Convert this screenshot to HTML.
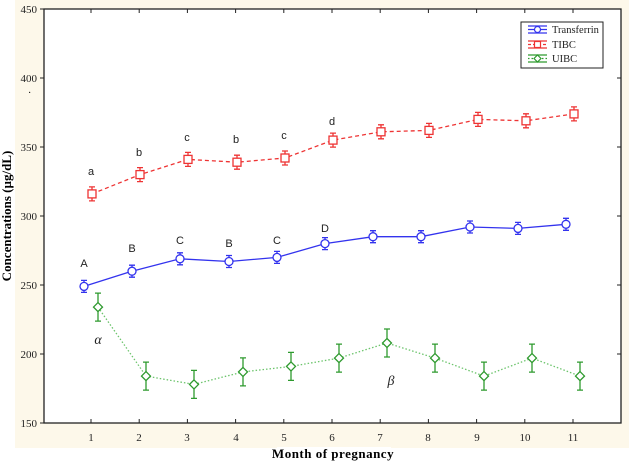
<!DOCTYPE html>
<html><head><style>
html,body{margin:0;padding:0;background:#fff}
svg{display:block}
text{font-family:"Liberation Serif",serif}
.s{font-family:"Liberation Sans",sans-serif;font-size:11px}
</style></head><body>
<svg width="629" height="463" viewBox="0 0 629 463" xmlns="http://www.w3.org/2000/svg">
<rect x="15" y="0" width="614" height="448" fill="#fdf8ea"/>
<rect x="44" y="9" width="577" height="414" fill="#fff" stroke="#222" stroke-width="1.3"/>
<!-- y ticks -->
<g stroke="#222" stroke-width="1">
<line x1="40" y1="9" x2="44" y2="9"/><line x1="40" y1="78" x2="44" y2="78"/><line x1="40" y1="147" x2="44" y2="147"/><line x1="40" y1="216" x2="44" y2="216"/><line x1="40" y1="285" x2="44" y2="285"/><line x1="40" y1="354" x2="44" y2="354"/><line x1="40" y1="423" x2="44" y2="423"/>
<line x1="617" y1="78" x2="621" y2="78"/><line x1="617" y1="147" x2="621" y2="147"/><line x1="617" y1="216" x2="621" y2="216"/><line x1="617" y1="285" x2="621" y2="285"/><line x1="617" y1="354" x2="621" y2="354"/>
</g>
<g stroke="#222" stroke-width="1">
<path d="M91 423v-4M139.2 423v-4M187.4 423v-4M235.6 423v-4M283.8 423v-4M332 423v-4M380.2 423v-4M428.4 423v-4M476.6 423v-4M524.8 423v-4M573 423v-4"/>
<path d="M91 9v4M139.2 9v4M187.4 9v4M235.6 9v4M283.8 9v4M332 9v4M380.2 9v4M428.4 9v4M476.6 9v4M524.8 9v4M573 9v4"/>
</g>
<g font-size="11" fill="#222" text-anchor="end">
<text x="37" y="13">450</text><text x="37" y="82">400</text><text x="37" y="151">350</text><text x="37" y="220">300</text><text x="37" y="289">250</text><text x="37" y="358">200</text><text x="37" y="427">150</text>
</g>
<text x="28" y="96" font-size="10">·</text>
<g font-size="11" fill="#222" text-anchor="middle">
<text x="91" y="441">1</text><text x="139" y="441">2</text><text x="187" y="441">3</text><text x="236" y="441">4</text><text x="284" y="441">5</text><text x="332" y="441">6</text><text x="380" y="441">7</text><text x="428" y="441">8</text><text x="477" y="441">9</text><text x="525" y="441">10</text><text x="573" y="441">11</text>
</g>
<rect x="277" y="447" width="114" height="16" fill="#fff"/>
<text x="333" y="458" font-size="13" font-weight="bold" text-anchor="middle" letter-spacing="0.5">Month of pregnancy</text>
<text transform="translate(11,216) rotate(-90)" font-size="13" font-weight="bold" text-anchor="middle">Concentrations (µg/dL)</text>

<!-- Transferrin -->
<g stroke="#3333ee" stroke-width="1.3" fill="none">
<polyline points="84,286.4 132,271.2 180,258.8 229,261.5 277,257.4 325,243.6 373,236.7 421,236.7 470,227 518,228.4 566,224.3"/>
<path d="M84 280.4v12M132 265.2v12M180 252.8v12M229 255.5v12M277 251.4v12M325 237.6v12M373 230.7v12M421 230.7v12M470 221v12M518 222.4v12M566 218.3v12"/>
<path d="M81 280.4h6M81 292.4h6M129 265.2h6M129 277.2h6M177 252.8h6M177 264.8h6M226 255.5h6M226 267.5h6M274 251.4h6M274 263.4h6M322 237.6h6M322 249.6h6M370 230.7h6M370 242.7h6M418 230.7h6M418 242.7h6M467 221h6M467 233h6M515 222.4h6M515 234.4h6M563 218.3h6M563 230.3h6"/>
<g fill="#fff"><circle cx="84" cy="286.4" r="4"/><circle cx="132" cy="271.2" r="4"/><circle cx="180" cy="258.8" r="4"/><circle cx="229" cy="261.5" r="4"/><circle cx="277" cy="257.4" r="4"/><circle cx="325" cy="243.6" r="4"/><circle cx="373" cy="236.7" r="4"/><circle cx="421" cy="236.7" r="4"/><circle cx="470" cy="227" r="4"/><circle cx="518" cy="228.4" r="4"/><circle cx="566" cy="224.3" r="4"/></g>
</g>
<!-- TIBC -->
<g stroke="#ee3333" stroke-width="1.3" fill="none">
<polyline stroke-dasharray="4,3" points="92,193.9 140,174.6 188,159.4 237,162.2 285,158 333,140.1 381,131.8 429,130.4 478,119.4 526,120.8 574,113.9"/>
<path d="M92 186.9v14M140 167.6v14M188 152.4v14M237 155.2v14M285 151v14M333 133.1v14M381 124.8v14M429 123.4v14M478 112.4v14M526 113.8v14M574 106.9v14"/>
<path d="M89 186.9h6M89 200.9h6M137 167.6h6M137 181.6h6M185 152.4h6M185 166.4h6M234 155.2h6M234 169.2h6M282 151h6M282 165h6M330 133.1h6M330 147.1h6M378 124.8h6M378 138.8h6M426 123.4h6M426 137.4h6M475 112.4h6M475 126.4h6M523 113.8h6M523 127.8h6M571 106.9h6M571 120.9h6"/>
<g fill="#fff"><rect x="88" y="189.9" width="8" height="8"/><rect x="136" y="170.6" width="8" height="8"/><rect x="184" y="155.4" width="8" height="8"/><rect x="233" y="158.2" width="8" height="8"/><rect x="281" y="154" width="8" height="8"/><rect x="329" y="136.1" width="8" height="8"/><rect x="377" y="127.8" width="8" height="8"/><rect x="425" y="126.4" width="8" height="8"/><rect x="474" y="115.4" width="8" height="8"/><rect x="522" y="116.8" width="8" height="8"/><rect x="570" y="109.9" width="8" height="8"/></g>
</g>
<!-- UIBC -->
<g stroke="#2e9a2e" stroke-width="1.3" fill="none">
<polyline stroke="#6cc46c" stroke-dasharray="1.5,2" points="98,307.1 146,376.1 194,384.4 243,371.9 291,366.4 339,358.1 387,343 435,358.1 484,376.1 532,358.1 580,376.1"/>
<path d="M98 293.1v28M146 362.1v28M194 370.4v28M243 357.9v28M291 352.4v28M339 344.1v28M387 329v28M435 344.1v28M484 362.1v28M532 344.1v28M580 362.1v28"/>
<path d="M95 293.1h6M95 321.1h6M143 362.1h6M143 390.1h6M191 370.4h6M191 398.4h6M240 357.9h6M240 385.9h6M288 352.4h6M288 380.4h6M336 344.1h6M336 372.1h6M384 329h6M384 357h6M432 344.1h6M432 372.1h6M481 362.1h6M481 390.1h6M529 344.1h6M529 372.1h6M577 362.1h6M577 390.1h6"/>
<g fill="#fff"><path d="M98 302.6l4.5 4.5-4.5 4.5-4.5-4.5z"/><path d="M146 371.6l4.5 4.5-4.5 4.5-4.5-4.5z"/><path d="M194 379.9l4.5 4.5-4.5 4.5-4.5-4.5z"/><path d="M243 367.4l4.5 4.5-4.5 4.5-4.5-4.5z"/><path d="M291 361.9l4.5 4.5-4.5 4.5-4.5-4.5z"/><path d="M339 353.6l4.5 4.5-4.5 4.5-4.5-4.5z"/><path d="M387 338.5l4.5 4.5-4.5 4.5-4.5-4.5z"/><path d="M435 353.6l4.5 4.5-4.5 4.5-4.5-4.5z"/><path d="M484 371.6l4.5 4.5-4.5 4.5-4.5-4.5z"/><path d="M532 353.6l4.5 4.5-4.5 4.5-4.5-4.5z"/><path d="M580 371.6l4.5 4.5-4.5 4.5-4.5-4.5z"/></g>
</g>
<!-- letters -->
<g class="s" fill="#222" text-anchor="middle">
<text class="s" x="91" y="175">a</text><text class="s" x="139" y="156">b</text><text class="s" x="187" y="141">c</text><text class="s" x="236" y="143">b</text><text class="s" x="284" y="139">c</text><text class="s" x="332" y="125">d</text>
<text class="s" x="84" y="267">A</text><text class="s" x="132" y="252">B</text><text class="s" x="180" y="244">C</text><text class="s" x="229" y="247">B</text><text class="s" x="277" y="244">C</text><text class="s" x="325" y="232">D</text>
</g>
<text x="98" y="344" font-size="14" font-style="italic" fill="#222" text-anchor="middle">α</text>
<text x="391" y="385" font-size="14" font-style="italic" fill="#222" text-anchor="middle">β</text>
<!-- legend -->
<rect x="521" y="22" width="82" height="46" fill="#fff" stroke="#222" stroke-width="1"/>
<g stroke-width="1.2" fill="#fff">
<g stroke="#3333ee"><path d="M528 26h19M528 33h19M528 29.5h19" fill="none"/><circle cx="537.5" cy="29.5" r="3"/></g>
<g stroke="#ee3333"><path d="M528 41h19M528 48h19" fill="none"/><path d="M528 44.5h19" stroke-dasharray="3,2" fill="none"/><rect x="534.5" y="41.5" width="6" height="6"/></g>
<g stroke="#2e9a2e"><path d="M528 55h19M528 62h19" fill="none"/><path d="M528 58.5h19" stroke-dasharray="1.5,2" fill="none"/><path d="M537.5 55l3.5 3.5-3.5 3.5-3.5-3.5z"/></g>
</g>
<g font-size="10.5" fill="#222"><text x="552" y="33">Transferrin</text><text x="552" y="48">TIBC</text><text x="552" y="62">UIBC</text></g>
</svg>
</body></html>
